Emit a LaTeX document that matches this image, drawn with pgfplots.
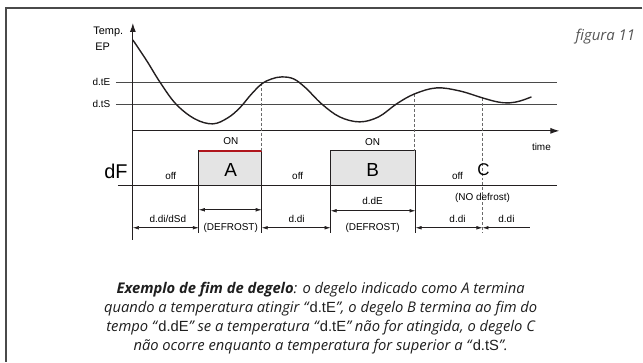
\documentclass[border=0pt]{standalone}
\usepackage{pgfplots}
\pgfplotsset{compat=1.18}
\usetikzlibrary{arrows.meta}
\usepackage{fontspec}
\setmainfont{Liberation Sans}
\newfontfamily\capfont{Open Sans}
\definecolor{ink}{HTML}{231F20}
\definecolor{thr}{HTML}{4A4A4A}
\definecolor{boxfill}{HTML}{E4E4E4}
\definecolor{redtop}{HTML}{B0151C}
\definecolor{dashgray}{HTML}{6A6A6A}
\definecolor{figgray}{HTML}{555555}
\definecolor{capink}{HTML}{1E1E1E}
\newcommand{\seg}[1]{\textup{\fontspec{Liberation Sans}#1}}
\begin{document}
\begin{tikzpicture}
\begin{axis}[
  scale only axis, width=643bp, height=362bp,
  xmin=0, xmax=643, ymin=0, ymax=362, y dir=reverse,
  hide axis, clip=false,
  arr/.style={line width=0.6bp, ink, {Latex[length=6bp,width=3.6bp]}-{Latex[length=6bp,width=3.6bp]}},
  every node/.style={font=\fontsize{10}{12}\selectfont, text=ink, inner sep=0pt},
]
\addplot[draw=none] coordinates {(0,0) (643,362)};
% frame
\addplot[line width=1.4bp, color=thr] coordinates {(643,8) (6,8) (6,362)};
% threshold lines
\addplot[line width=0.7bp, thr] coordinates {(116,82) (558,82)};
\addplot[line width=0.7bp, thr] coordinates {(116,104) (558,104)};
% boxes
\addplot[fill=boxfill, draw=ink, line width=1.2bp] coordinates {(199,186) (199,151) (262,151) (262,186) (199,186)};
\addplot[line width=1.4bp, redtop] coordinates {(199,151) (262,151)};
\addplot[fill=boxfill, draw=ink, line width=1.2bp] coordinates {(331,186) (331,151) (416,151) (416,186) (331,186)};
% temperature axis
\addplot[line width=1bp, ink, -{Latex[length=9bp,width=6bp]}] coordinates {(133,240) (133,23)};
\addplot[line width=1bp, ink, -{Latex[length=9bp,width=6bp]}] coordinates {(133,131) (560,131)};
% dF baseline
\addplot[line width=1.4bp, ink] coordinates {(118,186) (558,186)};
% dashed markers
\addplot[densely dashed, line width=0.8bp, dashgray] coordinates {(262,83) (262,151)};
\addplot[densely dashed, line width=0.8bp, dashgray] coordinates {(415,94) (415,151)};
\addplot[densely dashed, line width=0.8bp, dashgray] coordinates {(483,98) (483,233)};
% temperature curve
\addplot[smooth, tension=0.6, line width=1.4bp, ink] coordinates {
 (133,40) (147,61) (160,82) (176,104) (195,119) (213,124) (228,118) (240,108)
 (251,95) (262,84) (272,79) (282,77) (294,79) (306,88) (322,104) (340,117) (360,122)
 (379,117) (397,104) (415,94) (437,88) (460,91) (483,98) (498,102) (510,103)
 (521,101) (532,97)};
% vertical ticks below baseline
\addplot[line width=0.7bp, ink] coordinates {(199,186) (199,233)};
\addplot[line width=0.7bp, ink] coordinates {(262,186) (262,233)};
\addplot[line width=0.7bp, ink] coordinates {(331,186) (331,233)};
\addplot[line width=0.7bp, ink] coordinates {(416,186) (416,233)};
% dimension arrows
\addplot[arr] coordinates {(133,228) (199,228)};
\addplot[arr] coordinates {(199,210) (262,210)};
\addplot[arr] coordinates {(262,228) (331,228)};
\addplot[arr] coordinates {(331,211) (416,211)};
\addplot[arr] coordinates {(416,228) (483,228)};
\addplot[line width=0.6bp, ink, {Latex[length=6bp,width=3.6bp]}-] coordinates {(483,228) (531,228)};
% labels
\node[anchor=west, font=\fontsize{11}{13}\selectfont] at (axis cs:90,32) {Temp.};
\node[anchor=west, font=\fontsize{11}{13}\selectfont] at (axis cs:92,47) {EP};
\node[anchor=east] at (axis cs:114,82) {d.tE};
\node[anchor=east] at (axis cs:114,104) {d.tS};
\node at (axis cs:542,147) {time};
\node at (axis cs:231,141) {ON};
\node at (axis cs:373,142) {ON};
\node at (axis cs:171,176) {off};
\node at (axis cs:298,176) {off};
\node at (axis cs:458,176) {off};
\node[font=\fontsize{20}{22}\selectfont] at (axis cs:116,172) {dF};
\node[font=\fontsize{19}{22}\selectfont] at (axis cs:231,170) {A};
\node[font=\fontsize{19}{22}\selectfont] at (axis cs:373,170) {B};
\node[font=\fontsize{17}{20}\selectfont] at (axis cs:484,170) {C};
\node at (axis cs:168,219) {d.di/dSd};
\node[fill=white, inner xsep=1pt, inner ysep=2pt] at (axis cs:231,228) {(DEFROST)};
\node at (axis cs:297,219) {d.di};
\node at (axis cs:373,201) {d.dE};
\node[fill=white, inner xsep=1pt, inner ysep=2pt] at (axis cs:373,228) {(DEFROST)};
\node at (axis cs:483,198) {(NO defrost)};
\node at (axis cs:458,219) {d.di};
\node at (axis cs:507,219) {d.di};
% figure label
\node[font=\capfont\itshape\fontsize{15}{18}\selectfont, text=figgray] at (axis cs:606,37) {figura 11};
% caption
\begin{scope}[every node/.style={font=\capfont\itshape\fontsize{14.8}{17}\selectfont, text=capink, inner sep=0pt}]
\node at (axis cs:321,290) {\textbf{Exemplo de fim de degelo}: o degelo indicado como A termina};
\node at (axis cs:321,309) {quando a temperatura atingir “\seg{d.tE}”, o degelo B termina ao fim do};
\node at (axis cs:321,328) {tempo “\seg{d.dE}” se a temperatura “\seg{d.tE}” não for atingida, o degelo C};
\node at (axis cs:321,347) {não ocorre enquanto a temperatura for superior a “\seg{d.tS}”.};
\end{scope}
\end{axis}
\end{tikzpicture}
\end{document}
